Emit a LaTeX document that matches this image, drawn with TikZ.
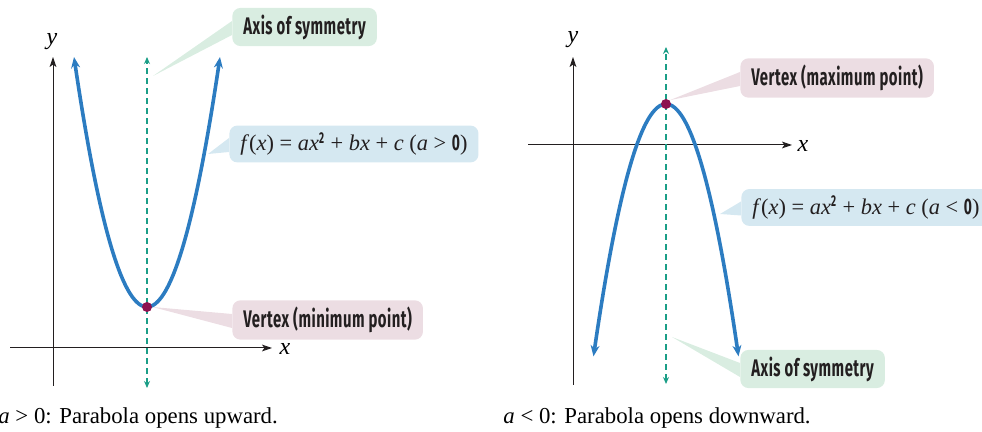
\documentclass[tikz,border=0pt]{standalone}
\usepackage{fontspec}
\setmainfont{Liberation Serif}
\newfontfamily\calloutfont{Fira Sans}[FakeStretch=0.62, LetterSpace=2]
\usetikzlibrary{arrows.meta}

\definecolor{curveblue}{HTML}{2C7CC1}
\definecolor{symteal}{HTML}{1B9E87}
\definecolor{vertexpurple}{HTML}{8C1150}
\definecolor{axisblack}{HTML}{231F20}
\definecolor{greenbox}{HTML}{D9EDE1}
\definecolor{bluebox}{HTML}{D5E8F1}
\definecolor{pinkbox}{HTML}{ECDDE3}

% wedge from the left side of a callout to the point it names
\newcommand\calloutarrow[3]{\fill[#1] (#3) -- ([yshift=3pt]#2.west) -- ([yshift=-4pt]#2.west) -- cycle;}
% the quadratic, with the sign of a as argument
\newcommand\parabolaeq[1]{{\normalfont\fontsize{11.2}{13}\selectfont\textit{f}(\textit{x}) = \textit{ax}\textsuperscript{\calloutfont\bfseries 2} + \textit{bx} + \textit{c}\ (\textit{a} #1 {\calloutfont\bfseries 0})}}

\begin{document}
\begin{tikzpicture}[
x=0.5pt, y=-0.5pt, % one unit is one pixel of the target, y downwards
axis/.style={->, line width=0.5pt, axisblack, >={Stealth[length=5pt, width=3.4pt, inset=1.2pt]}},
curve/.style={<->, line width=1.8pt, curveblue, >={Stealth[length=5.5pt, width=4.5pt]}},
symaxis/.style={<->, line width=0.6pt, symteal, dash pattern=on 3pt off 2pt, >={Stealth[length=3.5pt, width=3pt]}},
callout/.style={anchor=west, rounded corners=4pt, inner xsep=5.5pt, minimum height=16pt, text=axisblack, font=\calloutfont\bfseries\fontsize{12}{13}\selectfont},
vtx/.style={circle, fill=vertexpurple, inner sep=0pt, minimum size=5pt},
lab/.style={inner sep=1pt, font=\fontsize{12}{14}\selectfont\itshape},
caption/.style={anchor=west, inner sep=0pt, font=\fontsize{11.4}{13}\selectfont}
]
\useasboundingbox (0,0) rectangle (982,432);

% ================= Left: a > 0 =================

% Axes
\coordinate (xL0) at (10,348);
\coordinate (xL1) at (272,348);
\coordinate (yL0) at (53,386);
\coordinate (yL1) at (53,57);
\draw[axis] (xL0) -- (xL1);
\draw[axis] (yL0) -- (yL1);
\node[lab] (xlabL) at (285,349) {x};
\node[lab] (ylabL) at (52,42) {y};

% Axis of symmetry and parabola
\coordinate (sL0) at (147,388);
\coordinate (sL1) at (147,57);
\draw[symaxis] (sL0) -- (sL1);
\draw[curve] plot[domain=-73:73, samples=60, smooth] ({147+\x},{307-0.0469*\x*\x});
\node[vtx] (vmin) at (147,307) {};

% Callouts
\node[callout, fill=greenbox] (symL) at (232,27) {Axis of symmetry};
\node[callout, fill=bluebox] (eqL) at (229,144) {\parabolaeq{>}};
\node[callout, fill=pinkbox] (vminlab) at (232,320) {Vertex (minimum point)};
\coordinate (tipSymL) at (153,76);
\coordinate (tipEqL) at (208,154);
\calloutarrow{greenbox}{symL}{tipSymL}
\calloutarrow{bluebox}{eqL}{tipEqL}
\calloutarrow{pinkbox}{vminlab}{vmin.east}

\node[caption] (capL) at (-2,418) {\textit{a} > 0: Parabola opens upward.};

% ================= Right: a < 0 =================

% Axes
\coordinate (xR0) at (528,145);
\coordinate (xR1) at (792,145);
\coordinate (yR0) at (573,385);
\coordinate (yR1) at (573,57);
\draw[axis] (xR0) -- (xR1);
\draw[axis] (yR0) -- (yR1);
\node[lab] (xlabR) at (803,146) {x};
\node[lab] (ylabR) at (573,40) {y};

% Axis of symmetry and parabola
\coordinate (sR0) at (666,384);
\coordinate (sR1) at (666,47);
\draw[symaxis] (sR0) -- (sR1);
\draw[curve] plot[domain=-72.5:72.5, samples=60, smooth] ({666+\x},{104+0.048*\x*\x});
\node[vtx] (vmax) at (666,104) {};

% Callouts
\node[callout, fill=pinkbox] (vmaxlab) at (740,78) {Vertex (maximum point)};
\node[callout, fill=bluebox] (eqR) at (741,207.5) {\parabolaeq{<}};
\node[callout, fill=greenbox] (symR) at (740,369) {Axis of symmetry};
\coordinate (tipEqR) at (720,214);
\coordinate (tipSymR) at (672,337);
\calloutarrow{pinkbox}{vmaxlab}{vmax.north east}
\calloutarrow{bluebox}{eqR}{tipEqR}
\calloutarrow{greenbox}{symR}{tipSymR}

\node[caption] (capR) at (503,418) {\textit{a} < 0: Parabola opens downward.};

\end{tikzpicture}
\end{document}
